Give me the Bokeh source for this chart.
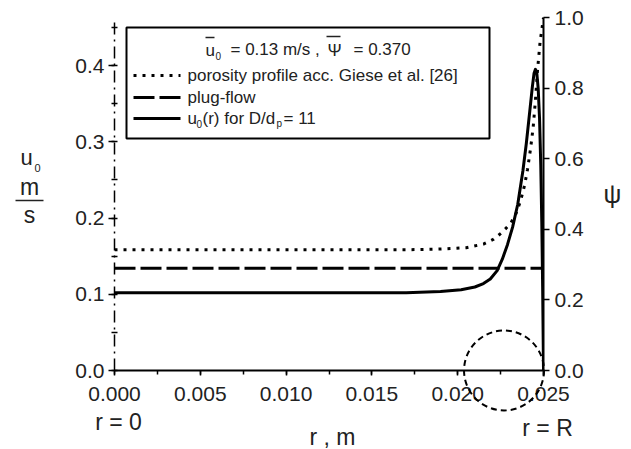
from bokeh.plotting import figure
from bokeh.models import (Range1d, LinearAxis, SingleIntervalTicker,
                          PrintfTickFormatter, BoxAnnotation)
from bokeh.core.properties import value
from bokeh.embed import file_html
from bokeh.resources import INLINE

# ---------------- data ----------------
# velocity profile u0(r) for D/dp = 11  (m/s, left axis)
r_u = [0.0, 0.0170, 0.0190, 0.0202, 0.0210, 0.0215, 0.0219, 0.0223, 0.0226,
       0.0229, 0.0232, 0.0235, 0.0238, 0.0240, 0.0242, 0.02435, 0.02445,
       0.02453, 0.02461, 0.02469, 0.02477, 0.02484, 0.02490, 0.02495, 0.0250]
u0 = [0.102, 0.102, 0.1035, 0.106, 0.1095, 0.114, 0.120, 0.131, 0.146,
      0.165, 0.188, 0.218, 0.262, 0.298, 0.340, 0.372, 0.390,
      0.395, 0.390, 0.370, 0.330, 0.270, 0.195, 0.110, 0.0]

# porosity profile acc. Giese et al. (right axis)
r_psi = [0.0, 0.0170, 0.0190, 0.0205, 0.0215, 0.0221, 0.0226, 0.0231, 0.0234,
         0.02366, 0.0239, 0.02407, 0.02425, 0.02440, 0.02453, 0.02465,
         0.02480, 0.0250]
psi = [0.342, 0.342, 0.344, 0.348, 0.358, 0.372, 0.392, 0.418, 0.445,
       0.480, 0.525, 0.570, 0.630, 0.690, 0.765, 0.850,
       0.930, 1.0]

# plug flow
r_plug = [0.0, 0.025]
u_plug = [0.134, 0.134]

# highlighted wall region (dashed circle)
highlight_r = [0.0227]
highlight_u = [0.0]

x_lim = (0.0, 0.025)
u_lim = (0.0, 0.463)
psi_lim = (0.0, 1.0)

FONT = "Liberation Sans"
TXT = "#222222"
TICK_FS = "21px"

W, H = 631, 449
L, R, T, B = 114, 88, 17, 79

p = figure(width=W, height=H, x_range=Range1d(*x_lim), y_range=Range1d(*u_lim),
           output_backend="svg", toolbar_location=None,
           min_border_left=L, min_border_right=R, min_border_top=T, min_border_bottom=B)
p.extra_y_ranges = {"psi": Range1d(*psi_lim)}
p.grid.visible = False
p.outline_line_color = None
p.background_fill_color = "white"

# screen-pixel helpers for annotation placement
fw, fh = W - L - R, H - T - B
def sx(px):
    return x_lim[0] + (px - L) / fw * (x_lim[1] - x_lim[0])
def sy(py):
    return u_lim[0] + (H - B - py) / fh * (u_lim[1] - u_lim[0])

# x axis
xa = p.xaxis[0]
xa.ticker = SingleIntervalTicker(interval=0.005, num_minor_ticks=2)
xa.formatter = PrintfTickFormatter(format="%.3f")
xa.axis_line_width = 2
xa.axis_line_color = "black"
xa.major_tick_in = 0
xa.major_tick_out = 5
xa.minor_tick_in = 0
xa.minor_tick_out = 4
xa.major_tick_line_width = 1.5
xa.minor_tick_line_width = 1.5
xa.major_label_text_font = FONT
xa.major_label_text_font_size = TICK_FS
xa.major_label_text_color = TXT
xa.major_label_standoff = 11

# left axis (centre line, dash-dot)
ya = p.yaxis[0]
ya.ticker = SingleIntervalTicker(interval=0.1, num_minor_ticks=2)
ya.formatter = PrintfTickFormatter(format="%.1f")
ya.axis_line_dash = "12 5 2 5"
ya.axis_line_width = 1.5
ya.axis_line_color = "black"
ya.major_tick_in = 0
ya.major_tick_out = 6
ya.minor_tick_in = 3
ya.minor_tick_out = 3
ya.major_tick_line_width = 1.5
ya.minor_tick_line_width = 1.5
ya.major_label_text_font = FONT
ya.major_label_text_font_size = TICK_FS
ya.major_label_text_color = TXT
ya.major_label_standoff = 4

# right axis (porosity)
ra = LinearAxis(y_range_name="psi")
ra.ticker = SingleIntervalTicker(interval=0.2, num_minor_ticks=0)
ra.formatter = PrintfTickFormatter(format="%.1f")
ra.axis_line_width = 2
ra.axis_line_color = "black"
ra.major_tick_in = 0
ra.major_tick_out = 6
ra.major_tick_line_width = 1.5
ra.minor_tick_line_color = None
ra.major_label_text_font = FONT
ra.major_label_text_font_size = TICK_FS
ra.major_label_text_color = TXT
ra.major_label_standoff = 5
p.add_layout(ra, "right")

# ---------------- curves ----------------
p.line(r_psi, psi, y_range_name="psi", line_color="black", line_width=3,
       line_dash="3 6", line_cap="butt")
p.line(r_plug, u_plug, line_color="black", line_width=3, line_dash="21 5")
p.line(r_u, u0, line_color="black", line_width=3, line_join="round")

circ = p.scatter(highlight_r, highlight_u, marker="circle", size=80,
                 fill_color=None, line_color="black", line_width=2,
                 line_dash="6 4")
circ.level = "overlay"

# ---------------- legend box ----------------
box = BoxAnnotation(left=sx(126), right=sx(489), top=sy(27), bottom=sy(138),
                    fill_color="white", fill_alpha=1.0, line_color="black",
                    line_alpha=1.0, line_width=2, level="underlay")
p.add_layout(box)

key_x = [sx(133), sx(180)]
p.line(key_x, [sy(75)] * 2, line_color="black", line_width=3, line_dash="3 6", line_cap="butt")
p.line(key_x, [sy(97)] * 2, line_color="black", line_width=3, line_dash="21 5")
p.line(key_x, [sy(118)] * 2, line_color="black", line_width=3)

def lab(text, px, py, size, align="left", color=TXT):
    g = p.text(x=[sx(px)], y=[sy(py)], text=[text], text_font=value(FONT),
               text_font_size=f"{size}px", text_color=color,
               text_align=align, text_baseline="middle")
    g.level = "overlay"

def hbar(px0, px1, py, width=1.5, color=TXT):
    g = p.segment(x0=[sx(px0)], y0=[sy(py)], x1=[sx(px1)], y1=[sy(py)],
                  line_color=color, line_width=width)
    g.level = "overlay"

LS = 17
lab("u", 205, 50, LS)
hbar(205, 214, 37, 1.5)
lab("0", 215, 55, 10)
lab("= 0.13 m/s ,", 230, 49, LS)
lab("\u03a8", 327, 50, LS)
hbar(326, 340, 36, 1.5)
lab("= 0.370", 353, 49, LS)
lab("porosity profile acc. Giese et al. [26]", 187, 75, LS)
lab("plug-flow", 187, 97, LS)
lab("u", 187, 118, LS)
lab("0", 196, 123, 10)
lab("(r) for D/d", 202, 118, LS)
lab("p", 276, 123, 10)
lab("= 11", 283, 118, LS)

# ---------------- axis labels ----------------
lab("u", 26, 157, 22, align="center")
lab("0", 37, 167, 11, align="center")
lab("m", 29, 186, 23, align="center")
hbar(15, 43, 200, 1.5)
lab("s", 29, 214, 23, align="center")
lab("\u03c8", 612, 193, 25, align="center")

lab("r = 0", 118, 421, 23, align="center")
lab("r , m", 332, 436, 23, align="center")
lab("r = R", 547, 427, 23, align="center")

open("out.html", "w").write(file_html(p, INLINE))
